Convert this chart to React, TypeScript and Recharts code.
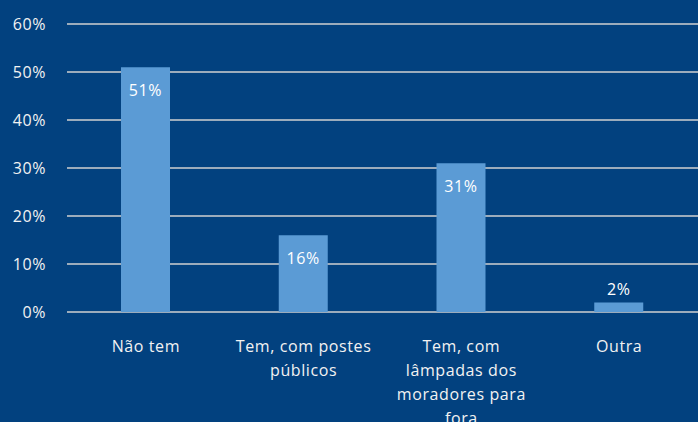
import React from 'react';
import { Bar, BarChart, CartesianGrid, LabelList, XAxis, YAxis } from 'recharts';

const categories = ['Não tem', 'Tem, com postes\npúblicos', 'Tem, com\nlâmpadas dos\nmoradores para\nfora', 'Outra'];
const values = [51, 16, 31, 2];
const yTicks = [0, 10, 20, 30, 40, 50, 60];

const data = categories.map((name, i) => ({ name, value: values[i] }));

const FONT = '"Open Sans", sans-serif';
const BG = '#02417F';

const CategoryTick = (props: any) => {
  const { x, y, payload } = props;
  const lines = String(payload.value).split('\n');
  return (
    <g>
      {lines.map((line, i) => (
        <text
          key={i}
          x={x}
          y={y + 32 + i * 24}
          textAnchor="middle"
          fill="#F2F2F2"
          fontSize={16}
          fontFamily={FONT}
          letterSpacing={0.6}
        >
          {line}
        </text>
      ))}
    </g>
  );
};

const ValueLabel = (props: any) => {
  const { x, y, width, height, value } = props;
  const inside = height > 30;
  return (
    <text
      x={x + width / 2}
      y={inside ? y + 29 : y - 7}
      textAnchor="middle"
      fill="#FFFFFF"
      fontSize={16}
      fontFamily={FONT}
      letterSpacing={0.6}
    >
      {value}%
    </text>
  );
};

const App: React.FC = () => {
  return (
    <div style={{ position: 'absolute', left: 0, top: 0, width: 698, height: 422, background: BG }}>
      <BarChart width={698} height={422} data={data} margin={{ top: 24, right: 0, bottom: 0, left: 0 }}>
        <CartesianGrid vertical={false} stroke="#D0D0D0" strokeWidth={1.5} />
        <XAxis
          dataKey="name"
          axisLine={false}
          tickLine={false}
          interval={0}
          height={110}
          tick={<CategoryTick />}
        />
        <YAxis
          domain={[0, 60]}
          ticks={yTicks}
          width={67}
          axisLine={false}
          tickLine={false}
          tickSize={0}
          tickMargin={21}
          tickFormatter={(v) => `${v}%`}
          tick={{ fill: '#F2F2F2', fontSize: 16, fontFamily: FONT, letterSpacing: 0.6 }}
        />
        <Bar dataKey="value" fill="#5B9BD5" barSize={49} isAnimationActive={false}>
          <LabelList dataKey="value" content={<ValueLabel />} />
        </Bar>
      </BarChart>
    </div>
  );
};

export default App;
